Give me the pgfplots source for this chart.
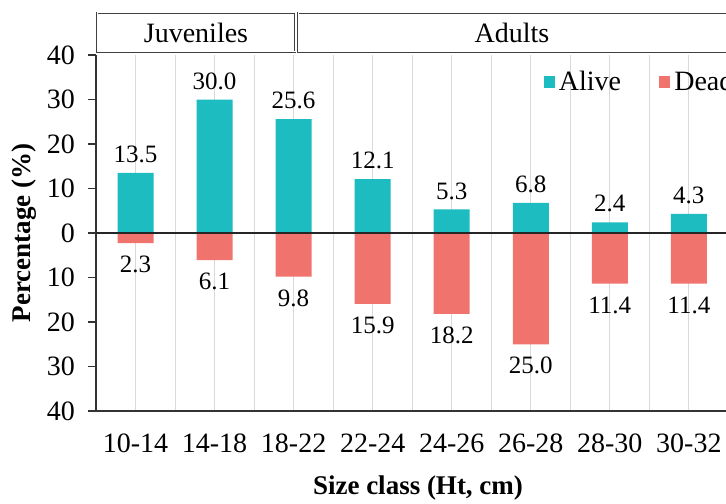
\documentclass[border=0pt]{standalone}
\usepackage{pgfplots}
\pgfplotsset{compat=1.18}
\usepackage{fontspec}
\setmainfont{Liberation Serif}

\definecolor{alivec}{RGB}{28,188,192}
\definecolor{deadc}{RGB}{240,115,110}
\definecolor{gridc}{RGB}{217,217,217}

\begin{document}
\begin{tikzpicture}
\useasboundingbox (-48pt,-46pt) rectangle (315pt,205.5pt);
\clip (-48pt,-46pt) rectangle (315pt,205.5pt);
\begin{scope}[overlay]
\begin{axis}[
    at={(0pt,0pt)}, anchor=south west,
    scale only axis,
    width=315pt, height=178pt,
    xmin=-0.5, xmax=7.47,
    ymin=-40, ymax=40,
    axis x line=bottom, axis y line=left,
    axis line style={-, black!80, line width=0.6pt},
    xtick={0,...,7},
    xticklabels={10-14,14-18,18-22,22-24,24-26,26-28,28-30,30-32},
    minor xtick={-0.5,0.5,1.5,2.5,3.5,4.5,5.5,6.5,7.5},
    xmajorgrids, xminorgrids,
    major grid style={gridc, line width=0.5pt},
    minor grid style={gridc, line width=0.5pt},
    x tick style={draw=none},
    minor x tick style={draw=none},
    ytick={-40,-30,...,40},
    yticklabels={40,30,20,10,0,10,20,30,40},
    y tick style={black!80, line width=0.6pt},
    tick align=outside,
    major tick length=4pt,
    /pgf/number format/assume math mode=true,
    tick label style={font=\fontsize{14}{15}\selectfont},
    x tick label style={yshift=-4pt},
    y tick label style={xshift=-3pt},
    ybar, bar width=18pt, bar shift=0pt,
    point meta=explicit symbolic,
    nodes near coords,
    every node near coord/.append style={font=\fontsize{12.5}{13}\selectfont, text=black},
    legend style={at={(axis description cs:0.71,0.924)}, anchor=west,
        draw=none, fill=none, inner sep=0pt,
        legend columns=2,
        font=\fontsize{14}{15}\selectfont,
        /tikz/every even column/.append style={column sep=17pt}},
    legend image code/.code={\fill[#1] (0pt,-2.8pt) rectangle (5.6pt,2.8pt);},
]
\addplot[fill=alivec, draw=none,
    every node near coord/.append style={anchor=south, yshift=1.5pt}]
    coordinates {
    (0,13.5) [13.5] (1,30.0) [30.0] (2,25.6) [25.6] (3,12.1) [12.1]
    (4,5.3) [5.3] (5,6.8) [6.8] (6,2.4) [2.4] (7,4.3) [4.3]
};
\addplot[fill=deadc, draw=none,
    every node near coord/.append style={anchor=north, yshift=-3pt}]
    coordinates {
    (0,-2.3) [2.3] (1,-6.1) [6.1] (2,-9.8) [9.8] (3,-15.9) [15.9]
    (4,-18.2) [18.2] (5,-25.0) [25.0] (6,-11.4) [11.4] (7,-11.4) [11.4]
};
\legend{Alive, Dead}
\draw[black!85, line width=0.6pt] (axis cs:-0.5,0) -- (axis cs:7.6,0);
\end{axis}
% group boxes above the plot
\draw[black!75, line width=0.45pt, double=white, double distance=0.5pt]
    (0.5pt,179.5pt) rectangle (99.5pt,199pt);
\node[font=\fontsize{14}{15}\selectfont] at (50pt,189pt) {Juveniles};
\draw[black!75, line width=0.45pt, double=white, double distance=0.5pt]
    (101pt,179.5pt) rectangle (340pt,199pt);
\node[font=\fontsize{14}{15}\selectfont] at (208pt,189pt) {Adults};
% axis titles
\node[rotate=90, font=\bfseries\fontsize{13.5}{14}\selectfont] at (-36pt,89pt) {Percentage (\%)};
\node[font=\bfseries\fontsize{13.5}{14}\selectfont] at (161pt,-38.5pt) {Size class (Ht, cm)};
\end{scope}
\end{tikzpicture}
\end{document}
